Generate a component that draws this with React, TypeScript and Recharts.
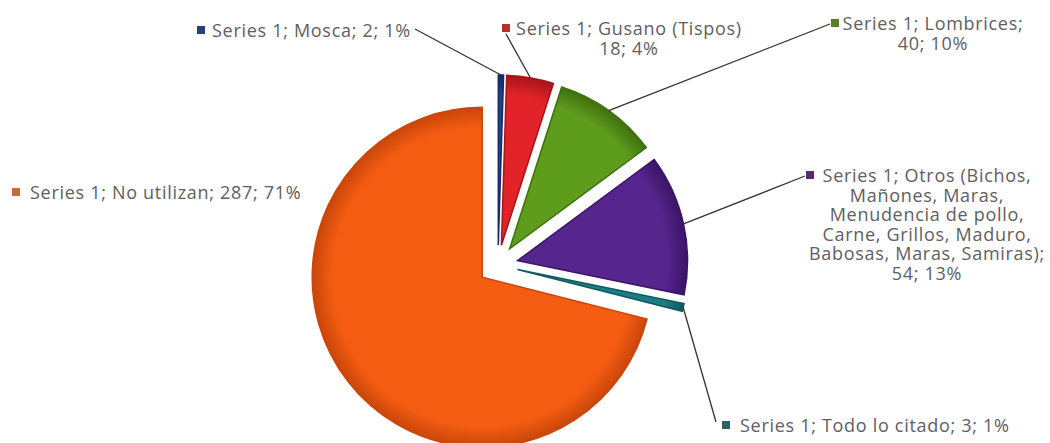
import React from "react";
import { PieChart, Pie, Cell, Sector } from "recharts";

// data, clockwise from 12 o'clock
const categories = [
  "Mosca",
  "Gusano (Tispos)",
  "Lombrices",
  "Otros (Bichos, Mañones, Maras, Menudencia de pollo, Carne, Grillos, Maduro, Babosas, Maras, Samiras)",
  "Todo lo citado",
  "No utilizan",
];
const counts = [2, 18, 40, 54, 3, 287];

const labelLines = [
  ["Series 1; Mosca; 2; 1%"],
  ["Series 1; Gusano (Tispos)", "18; 4%"],
  ["Series 1; Lombrices;", "40; 10%"],
  [
    "Series 1; Otros (Bichos,",
    "Mañones, Maras,",
    "Menudencia de pollo,",
    "Carne, Grillos, Maduro,",
    "Babosas, Maras, Samiras);",
    "54; 13%",
  ],
  ["Series 1; Todo lo citado; 3; 1%"],
  ["Series 1; No utilizan; 287; 71%"],
];

const sliceColors = ["#26408c", "#e2242a", "#5e9c1c", "#57258e", "#1e7d84", "#f45c12"];
const edgeColors = ["#162a66", "#a81418", "#3f7010", "#3a1466", "#0f5a60", "#c9460a"];
const keyColors = ["#2a3f78", "#b8302f", "#5d7d22", "#5a2a6e", "#2a6262", "#c8663c"];

const data = categories.map((name, i) => ({ name, value: counts[i] }));

// where each data label sits (page px)
const labelLayout = [
  { x: 212, y: 30, anchor: "start", keyX: 197, lineTo: [415, 29] },
  { x: 629, y: 28, anchor: "middle", keyX: 502, lineTo: [506, 34] },
  { x: 933, y: 23, anchor: "middle", keyX: 831, lineTo: [830, 24] },
  { x: 927, y: 175, anchor: "middle", keyX: 806, lineTo: [805, 176] },
  { x: 740, y: 425, anchor: "start", keyX: 722, lineTo: [716, 422] },
  { x: 30, y: 192, anchor: "start", keyX: 12, lineTo: null },
];

const LINE_H = 19.5;
const EXPLODE = 20;
const RAD = Math.PI / 180;

function renderSlice(props: any) {
  const { cx, cy, innerRadius, outerRadius, startAngle, endAngle, index } = props;
  const mid = props.midAngle ?? (startAngle + endAngle) / 2;
  const ox = cx + EXPLODE * Math.cos(-mid * RAD);
  const oy = cy + EXPLODE * Math.sin(-mid * RAD);
  const ex = ox + outerRadius * Math.cos(-mid * RAD);
  const ey = oy + outerRadius * Math.sin(-mid * RAD);
  const lay = labelLayout[index];
  const lines = labelLines[index];
  const gid = `shade-${index}`;

  return (
    <g key={`slice-${index}`}>
      <defs>
        <radialGradient id={gid} gradientUnits="userSpaceOnUse" cx={ox} cy={oy} r={outerRadius}>
          <stop offset="0%" stopColor={sliceColors[index]} />
          <stop offset="88%" stopColor={sliceColors[index]} />
          <stop offset="100%" stopColor={edgeColors[index]} />
        </radialGradient>
      </defs>
      <Sector
        cx={ox}
        cy={oy}
        innerRadius={innerRadius}
        outerRadius={outerRadius}
        startAngle={startAngle}
        endAngle={endAngle}
        fill={`url(#${gid})`}
        stroke={edgeColors[index]}
        strokeWidth={1.5}
      />
      {lay.lineTo && (
        <line x1={ex} y1={ey} x2={lay.lineTo[0]} y2={lay.lineTo[1]} stroke="#333" strokeWidth={1.3} />
      )}
      <rect x={lay.keyX} y={lay.y - 4} width={8} height={8} fill={keyColors[index]} />
      <text
        fontFamily="Open Sans, sans-serif"
        fontSize={18}
        letterSpacing={0.7}
        fill="#606060"
        textAnchor={lay.anchor}
      >
        {lines.map((t, j) => (
          <tspan key={j} x={lay.x} y={lay.y + j * LINE_H} dominantBaseline="central">
            {t}
          </tspan>
        ))}
      </text>
    </g>
  );
}

export default function App() {
  return (
    <div style={{ position: "absolute", left: 0, top: 0, background: "#fff" }}>
      <PieChart width={1050} height={443}>
        <Pie
          data={data}
          dataKey="value"
          nameKey="name"
          cx={493}
          cy={260}
          outerRadius={170}
          startAngle={90}
          endAngle={-270}
          stroke="none"
          labelLine={false}
          label={renderSlice}
          isAnimationActive={false}
        >
          {data.map((d) => (
            <Cell key={d.name} fill="transparent" />
          ))}
        </Pie>
      </PieChart>
    </div>
  );
}
